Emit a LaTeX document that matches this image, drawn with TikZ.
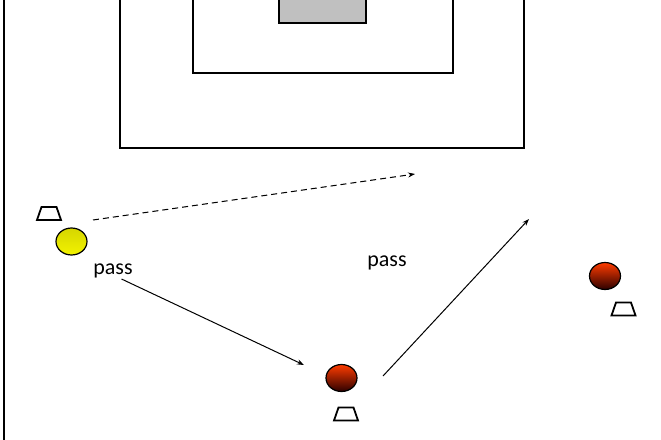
\documentclass[tikz,border=0pt]{standalone}
\usepackage{fontspec}
\setmainfont{Carlito}
\usetikzlibrary{arrows.meta, shapes.geometric}
\definecolor{goalgray}{RGB}{192,192,192}
\definecolor{ballyellowA}{RGB}{214,214,0}
\definecolor{ballyellowB}{RGB}{242,242,0}
\definecolor{ballredA}{RGB}{255,60,0}
\definecolor{ballredB}{RGB}{190,30,0}
\definecolor{ballredC}{RGB}{45,0,0}

\begin{document}
\begin{tikzpicture}[x=1pt, y=-1pt, thick,
  ball/.style={ellipse, draw, line width=1.2pt, inner sep=0pt,
    minimum width=31pt, minimum height=27pt},
  yellowball/.style={ball, shading=axis, shading angle=135,
    top color=ballyellowA, bottom color=ballyellowB},
  redball/.style={ball, top color=ballredA, middle color=ballredB,
    bottom color=ballredC},
  cone/.style={line width=1.8pt, line join=miter},
  label/.style={font=\fontsize{22}{26}\selectfont, inner sep=0pt},
  pass/.style={line width=1pt, -{Stealth[length=7pt, width=5pt]}}]
  \useasboundingbox (0,0) rectangle (661,439);
  \clip (0,0) rectangle (661,439);
  % field
  \coordinate (L1) at (3.5,-5);
  \coordinate (L2) at (3.5,445);
  \draw[line width=2pt] (L1) -- (L2);
  \draw[line width=2pt] (119.5,-5) rectangle (523.5,147.5);
  \draw[line width=2pt] (192.5,-5) rectangle (453,72.5);
  \draw[line width=2pt, fill=goalgray] (278.5,-5) rectangle (366,22.5);
  % players
  \node[yellowball] (Y) at (71.5,241.5) {};
  \node[redball] (R1) at (341.5,378) {};
  \node[redball] (R2) at (605,276) {};
  % cones
  \coordinate (C0) at (49,213.5);
  \coordinate (C1) at (346,414);
  \coordinate (C2) at (623.5,309);
  \foreach \c in {C0,C1,C2}
    \draw[cone, shift={(\c)}] (-12,6.5) -- (12,6.5) -- (7.5,-6.5)
      -- (-7.5,-6.5) -- cycle;
  \node[label] (P1) at (113,271) {pass};
  \node[label] (P2) at (387,262.5) {pass};
  % passes
  \coordinate (D0) at (93,220);
  \coordinate (D1) at (415,174);
  \coordinate (A0) at (121.5,279);
  \coordinate (A1) at (304,365);
  \coordinate (B0) at (383,376);
  \coordinate (B1) at (529,219);
  \draw[pass, dashed, dash pattern=on 6pt off 4pt] (D0) -- (D1);
  \draw[pass] (A0) -- (A1);
  \draw[pass] (B0) -- (B1);
\end{tikzpicture}
\end{document}
